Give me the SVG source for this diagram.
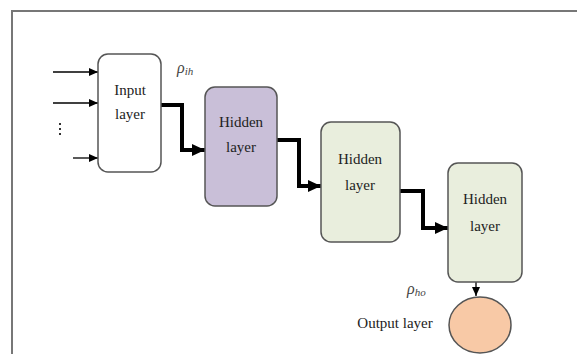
<svg xmlns="http://www.w3.org/2000/svg" width="577" height="354" viewBox="0 0 577 354">
<style>
.box{stroke:#555;stroke-width:1.5}
.lbl{font-family:"Liberation Serif","Times New Roman",serif;font-size:15px;fill:#222;text-anchor:middle}
.rho{font-family:"Liberation Serif","Times New Roman",serif;font-style:italic;font-size:16px;fill:#444}
.thick{fill:none;stroke:#000;stroke-width:4;stroke-linejoin:miter}
.thin{fill:none;stroke:#000;stroke-width:1.3}
</style>
<defs>
<marker id="big" markerUnits="userSpaceOnUse" markerWidth="14" markerHeight="14" refX="13" refY="7" orient="auto">
<path d="M0,1 L13,7 L0,13 Z" fill="#000"/>
</marker>
<marker id="small" markerUnits="userSpaceOnUse" markerWidth="10" markerHeight="10" refX="9" refY="5" orient="auto">
<path d="M0,1 L9,5 L0,9 Z" fill="#000"/>
</marker>
</defs>
<rect width="577" height="354" fill="#fff"/>
<path d="M12,354 V11 H577" fill="none" stroke="#777" stroke-width="2"/>
<g id="connectors">
<line class="thin" x1="53" y1="72" x2="98" y2="72" marker-end="url(#small)"/>
<line class="thin" x1="53" y1="103" x2="98" y2="103" marker-end="url(#small)"/>
<line class="thin" x1="73" y1="158" x2="98" y2="158" marker-end="url(#small)"/>
<path class="thick" d="M161,105 H182 V150 H205" marker-end="url(#big)"/>
<path class="thick" d="M277,140 H299 V186 H321" marker-end="url(#big)"/>
<path class="thick" d="M400,191 H423 V228 H448" marker-end="url(#big)"/>
<line class="thin" x1="476" y1="282" x2="476" y2="296" marker-end="url(#small)"/>
</g>
<g id="dots" fill="#333">
<rect x="59" y="123" width="2" height="2"/>
<rect x="59" y="128" width="2" height="2"/>
<rect x="59" y="133" width="2" height="2"/>
</g>
<g id="input">
<rect class="box" x="98" y="54" width="63" height="118" rx="10" fill="#fff"/>
<text class="lbl" x="130" y="95">Input</text>
<text class="lbl" x="130" y="119">layer</text>
</g>
<g id="hidden1">
<rect class="box" x="205" y="87" width="72" height="119" rx="10" fill="#c9bfd8"/>
<text class="lbl" x="241" y="127">Hidden</text>
<text class="lbl" x="241" y="152">layer</text>
</g>
<g id="hidden2">
<rect class="box" x="321" y="122" width="79" height="120" rx="10" fill="#e9eedd"/>
<text class="lbl" x="360" y="164">Hidden</text>
<text class="lbl" x="360" y="190">layer</text>
</g>
<g id="hidden3">
<rect class="box" x="448" y="163" width="74" height="119" rx="10" fill="#e9eedd"/>
<text class="lbl" x="485" y="204">Hidden</text>
<text class="lbl" x="485" y="231">layer</text>
</g>
<g id="output">
<ellipse cx="480" cy="325" rx="31" ry="28" fill="#f8c9a6" stroke="#555" stroke-width="1.5"/>
</g>
<text class="lbl" x="395" y="328">Output layer</text>
<text class="rho" x="177" y="73">ρ<tspan font-size="11" dy="2">ih</tspan></text>
<text class="rho" x="407" y="294">ρ<tspan font-size="11" dy="2">ho</tspan></text>
</svg>
